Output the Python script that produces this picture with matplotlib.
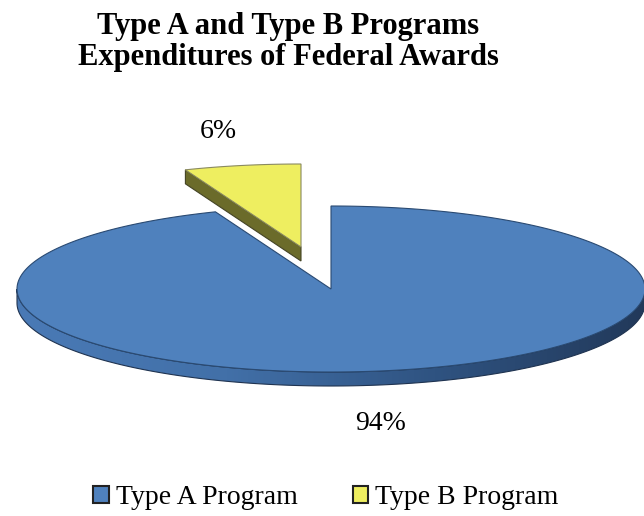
# Type A / Type B programs - 3D style pie
import numpy as np
import matplotlib
matplotlib.use("Agg")
import matplotlib.pyplot as plt
from matplotlib.patches import Polygon, Patch

labels = ["Type A Program", "Type B Program"]
values = [94, 6]
pct_labels = ["94%", "6%"]
top_colors = ["#4f81bd", "#eeee60"]
side_colors = ["#2f5381", "#6b6b2a"]
title = "Type A and Type B Programs\nExpenditures of Federal Awards"

plt.rcParams['font.family'] = ['Liberation Serif', 'DejaVu Serif']

# pie geometry in pixels (axes spans the whole figure)
cx, cy = 331, 289
rx, ry = 314, 83
depth = 14
explode = [(0, 0), (-30, -42)]

fig = plt.figure(figsize=(6.44, 5.16), dpi=100)
ax = fig.add_axes([0, 0, 1, 1])
ax.set_xlim(0, 644)
ax.set_ylim(516, 0)
ax.axis("off")


def pt(t, off=(0, 0), dy=0):
    r = np.radians(t)
    return (cx + off[0] + rx * np.cos(r), cy + off[1] - ry * np.sin(r) + dy)


# slice angles, clockwise from 12 o'clock like Excel
total = sum(values)
starts, ends = [], []
a = 90.0
for v in values:
    starts.append(a)
    a -= 360.0 * v / total
    ends.append(a)

# slice A: front side with gradient
tA = np.linspace(-180, 0, 200)
top_arc = [pt(t) for t in tA]
bot_arc = [pt(t, dy=depth) for t in tA[::-1]]
side = Polygon(top_arc + bot_arc, closed=True, facecolor="none",
               edgecolor="#1f3350", lw=0.8, zorder=2)
ax.add_patch(side)
grad = np.linspace(0, 1, 256).reshape(1, -1)
cmap = matplotlib.colors.LinearSegmentedColormap.from_list(
    "side", ["#4a7ab6", "#4270a8", side_colors[0], "#22395a"])
im = ax.imshow(grad, extent=(cx - rx, cx + rx, cy + ry + depth, cy - 10),
               cmap=cmap, aspect="auto", zorder=1.9)
im.set_clip_path(side)

# slice A top
tt = np.linspace(starts[0], ends[0], 400)
ax.add_patch(Polygon([(cx, cy)] + [pt(t) for t in tt], closed=True,
                     facecolor=top_colors[0], edgecolor="#2a4a72",
                     lw=0.8, zorder=3))

# slice B: exploded, cut face below its left edge
off = explode[1]
tip = (cx + off[0], cy + off[1])
corner = pt(starts[1], off)
ax.add_patch(Polygon([tip, corner, (corner[0], corner[1] + depth),
                      (tip[0], tip[1] + depth)], closed=True,
                     facecolor=side_colors[1], edgecolor="#444425",
                     lw=0.8, zorder=4))
tt = np.linspace(starts[1], ends[1], 60)
ax.add_patch(Polygon([tip] + [pt(t, off) for t in tt], closed=True,
                     facecolor=top_colors[1], edgecolor="#8a8a60",
                     lw=0.8, zorder=5))

# percent labels
ax.text(381, 424, pct_labels[0], fontsize=20, ha="center", va="center")
ax.text(218, 131, pct_labels[1], fontsize=20, ha="center", va="center")

ax.text(288, 42, title, fontsize=22, fontweight="bold", ha="center",
        va="center", linespacing=1.1)

handles = [Patch(facecolor=c, edgecolor="#222222", lw=1.5) for c in top_colors]
fig.legend(handles, labels, loc="center", bbox_to_anchor=(326 / 644, 1 - 498 / 516),
           ncol=2, frameon=False, fontsize=20, handlelength=0.55,
           handleheight=0.55, handletextpad=0.25, columnspacing=2.0,
           borderpad=0)

fig.savefig("out.png", dpi=100)
